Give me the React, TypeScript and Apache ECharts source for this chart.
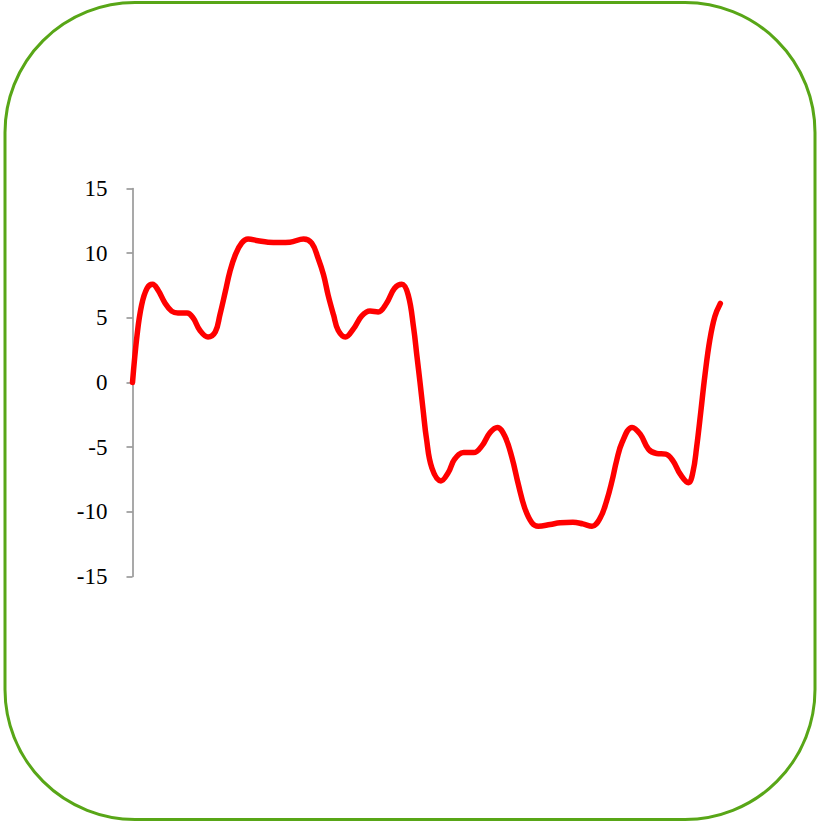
import React, { useEffect, useRef } from "react";
import * as echarts from "echarts";

// x positions (radians) and curve values
const xValues: number[] = [
  0, 0.05, 0.1, 0.16, 0.22, 0.28, 0.36, 0.43, 0.5, 0.6, 0.67, 0.74, 0.83, 0.91, 0.96,
  1.02, 1.07, 1.13, 1.2, 1.27, 1.38, 1.49, 1.62, 1.73, 1.88, 1.97, 2.04, 2.1, 2.15,
  2.21, 2.26, 2.34, 2.43, 2.52, 2.61, 2.7, 2.79, 2.88, 2.96, 3.03, 3.09, 3.125, 3.16,
  3.195, 3.23, 3.29, 3.39, 3.47, 3.54, 3.64, 3.75, 3.84, 3.93, 4.01, 4.09, 4.17, 4.24,
  4.31, 4.39, 4.46, 4.59, 4.7, 4.84, 4.95, 5.05, 5.14, 5.21, 5.27, 5.32, 5.38, 5.49,
  5.58, 5.67, 5.76, 5.86, 5.94, 6.02, 6.11, 6.16, 6.2, 6.245, 6.29, 6.345, 6.4, 6.46,
];
const yValues: number[] = [
  0, 3.65, 5.98, 7.28, 7.59, 7.15, 6.11, 5.52, 5.38, 5.38, 4.95, 4.04, 3.52, 3.91, 5.21,
  7.02, 8.57, 9.87, 10.78, 11.09, 10.96, 10.85, 10.83, 10.85, 11.1, 10.78, 9.61, 8.31, 6.76,
  5.21, 4.04, 3.52, 4.17, 5.15, 5.52, 5.46, 6.11, 7.28, 7.59, 6.76, 4.2, 2.1, 0.0,
  -2.2, -4.3, -6.6, -7.61, -6.97, -5.93, -5.42, -5.42, -4.9, -3.86, -3.47, -4.12, -5.8, -7.87,
  -9.69, -10.85, -11.11, -10.98, -10.85, -10.8, -10.93, -11.11, -10.47, -9.17, -7.61, -6.06, -4.64, -3.47,
  -3.99, -5.15, -5.49, -5.54, -6.06, -7.09, -7.75, -6.9, -5.0, -2.3, 0.5, 3.3, 5.1, 6.11,
];
const yMin = -15;
const yMax = 15;
const yStep = 5;

export default function App() {
  const ref = useRef<HTMLDivElement>(null);
  useEffect(() => {
    if (!ref.current) return;
    const chart = echarts.init(ref.current, undefined, { renderer: "svg" });
    chart.setOption({
      animation: false,
      backgroundColor: "#ffffff",
      grid: { left: 132.5, right: 97.7, top: 188.5, bottom: 246.5, containLabel: false },
      xAxis: {
        type: "value",
        min: 0,
        max: xValues[xValues.length - 1],
        show: false,
      },
      yAxis: {
        type: "value",
        min: yMin,
        max: yMax,
        interval: yStep,
        axisLine: { show: true, lineStyle: { color: "#8c8c8c", width: 1.5 } },
        axisTick: { show: true, inside: false, length: 6, lineStyle: { color: "#8c8c8c", width: 1.5 } },
        splitLine: { show: false },
        axisLabel: {
          color: "#000000",
          fontFamily: "Liberation Serif, 'Times New Roman', serif",
          fontSize: 23,
          margin: 25,
        },
      },
      graphic: [
        {
          type: "rect",
          shape: { x: 5, y: 2.5, width: 810, height: 817, r: 130 },
          style: { fill: "none", stroke: "#58a617", lineWidth: 3 },
          silent: true,
        },
      ],
      series: [
        {
          type: "line",
          data: xValues.map((x, i) => [x, yValues[i]]),
          smooth: 0.4,
          showSymbol: false,
          lineStyle: { color: "#ff0000", width: 5.5, cap: "round", join: "round" },
          clip: false,
        },
      ],
    });
    return () => chart.dispose();
  }, []);
  return (
    <div
      ref={ref}
      style={{ position: "fixed", left: 0, top: 0, width: 818, height: 823 }}
    />
  );
}
